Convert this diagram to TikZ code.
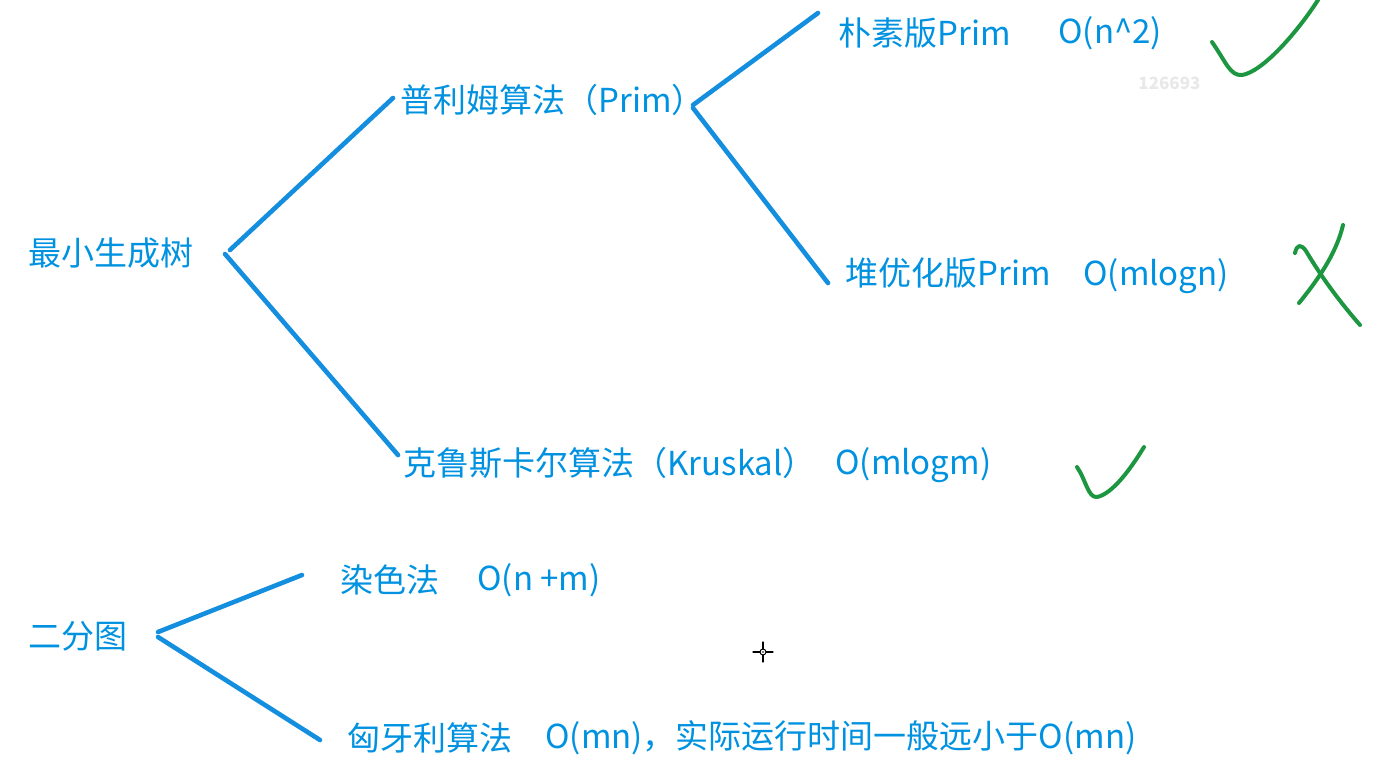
\documentclass[tikz,border=0pt]{standalone}
\usepackage{fontspec}
\usepackage{xcolor}
\usepackage{tikz}
\newfontfamily\cjk{Noto Sans CJK SC}
\definecolor{inkblue}{RGB}{0,146,224}
\definecolor{lineblue}{RGB}{20,142,222}
\definecolor{tickgreen}{RGB}{28,150,64}

\begin{document}
\begin{tikzpicture}[x=0.5pt,y=-0.5pt,line join=round,line cap=round,
  lbl/.style={anchor=west,inner sep=0pt,text=inkblue,font=\cjk\fontsize{16.5}{20}\selectfont},
  branch/.style={lineblue,line width=2.3pt},
  tick/.style={tickgreen,line width=2pt}]
  \useasboundingbox (0,0) rectangle (1386,778);
  % tree of minimum spanning tree
  \node[lbl] (mst) at (28,253) {最小生成树};
  \node[lbl] (prim) at (400,100) {普利姆算法（Prim）};
  \node[lbl] (naive) at (838,33) {朴素版Prim};
  \node[lbl] (naiveO) at (1058,33) {O(n\^{}2)};
  \node[lbl] (heap) at (845,273) {堆优化版Prim};
  \node[lbl] (heapO) at (1083,276) {O(mlogn)};
  \node[lbl] (krus) at (403,463) {克鲁斯卡尔算法（Kruskal）};
  \node[lbl] (krusO) at (835,465) {O(mlogm)};
  % bipartite graph
  \node[lbl] (bip) at (28,636) {二分图};
  \node[lbl] (color) at (340,580) {染色法};
  \node[lbl] (colorO) at (477,580) {O(n +m)};
  \node[lbl] (hung) at (347,738) {匈牙利算法};
  \node[lbl] (hungO) at (545,738) {O(mn)，实际运行时间一般远小于O(mn)};
  \node[anchor=west,inner sep=0pt,text=black!9,font=\cjk\bfseries\fontsize{8.5}{10}\selectfont] (mark) at (1138,83) {126693};
  % branch ends
  \coordinate (mstA) at (230,250);
  \coordinate (mstB) at (225,254);
  \coordinate (primL) at (393,98);
  \coordinate (krusL) at (398,455);
  \coordinate (primA) at (693,105);
  \coordinate (primB) at (693,108);
  \coordinate (naiveL) at (818,13);
  \coordinate (heapL) at (828,283);
  \coordinate (bipA) at (158,632);
  \coordinate (bipB) at (158,637);
  \coordinate (colorL) at (302,575);
  \coordinate (hungL) at (320,740);
  \draw[branch] (mstA) -- (primL);
  \draw[branch] (mstB) -- (krusL);
  \draw[branch] (primA) -- (naiveL);
  \draw[branch] (primB) -- (heapL);
  \draw[branch] (bipA) -- (colorL);
  \draw[branch] (bipB) -- (hungL);
  % ticks and cross
  \draw[tick] (1212,42) .. controls (1226,62) and (1230,76) .. (1242,75)
    .. controls (1262,72) and (1296,34) .. (1318,0);
  \draw[tick] (1077,467) .. controls (1086,480) and (1088,498) .. (1097,497)
    .. controls (1112,494) and (1130,470) .. (1144,447);
  \draw[tick] (1295,253) .. controls (1297,244) and (1301,244) .. (1306,251)
    .. controls (1322,278) and (1340,302) .. (1360,325);
  \draw[tick] (1343,225) .. controls (1336,255) and (1316,282) .. (1299,303);
  % cursor
  \draw[black,line width=0.6pt] (763,642) -- (763,649) (763,655) -- (763,662)
    (753,652) -- (760,652) (766,652) -- (773,652);
  \draw[black,line width=0.5pt] (763,652) circle (3);
  \fill[black] (763,652) circle (0.8);
\end{tikzpicture}
\end{document}
